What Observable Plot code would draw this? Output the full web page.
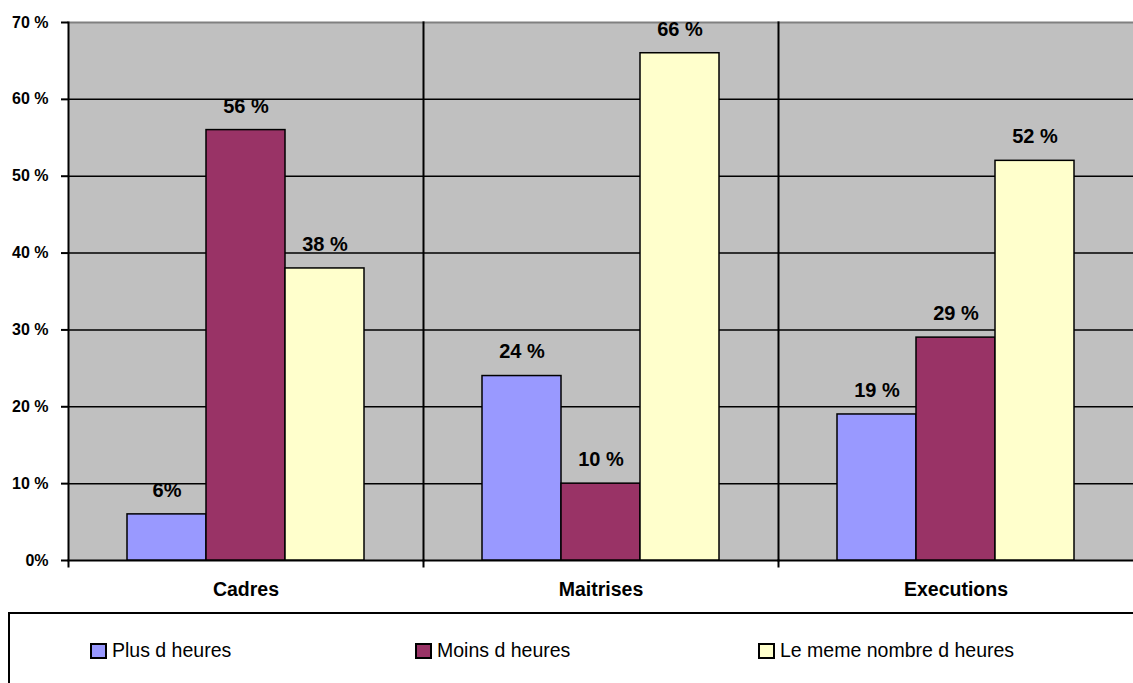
<!DOCTYPE html>
<html>
<head>
<meta charset="utf-8">
<script src="https://cdn.jsdelivr.net/npm/d3@7"></script>
<script src="https://cdn.jsdelivr.net/npm/@observablehq/plot@0.6"></script>
<style>
  html, body { margin: 0; padding: 0; background: white; }
  body { width: 1133px; height: 683px; overflow: hidden; font-family: "Liberation Sans", Arial, sans-serif; }
  #legend { position: relative; margin-left: 8px; width: 1125px; height: 69px; border-top: 2px solid black; border-left: 2px solid black; }
  .item { position: absolute; top: 25px; display: flex; align-items: center; font-size: 19.5px; color: black; }
  .sw { width: 13px; height: 12px; border: 2px solid black; margin-right: 5px; }
</style>
</head>
<body>
<div id="chart"></div>
<div id="legend"></div>
<script>
const categories = ["Cadres", "Maitrises", "Executions"];
const series = ["Plus d heures", "Moins d heures", "Le meme nombre d heures"];
const plusValues = [6, 24, 19];
const moinsValues = [56, 10, 29];
const memeValues = [38, 66, 52];
const plusLabels = ["6%", "24 %", "19 %"];
const moinsLabels = ["56 %", "10 %", "29 %"];
const memeLabels = ["38 %", "66 %", "52 %"];
const yTicks = [0, 10, 20, 30, 40, 50, 60, 70];
const yTickLabels = ["0%", "10 %", "20 %", "30 %", "40 %", "50 %", "60 %", "70 %"];
const colors = ["#9999FF", "#993366", "#FFFFCC"];

const valueSets = [plusValues, moinsValues, memeValues];
const labelSets = [plusLabels, moinsLabels, memeLabels];
const rows = [];
categories.forEach((c, ci) => {
  series.forEach((s, si) => {
    rows.push({category: c, series: s, value: valueSets[si][ci], label: labelSets[si][ci]});
  });
});

const chart = Plot.plot({
  width: 1133,
  height: 612,
  marginLeft: 68,
  marginRight: 0,
  marginTop: 22,
  marginBottom: 52,
  style: {fontFamily: "'Liberation Sans', Arial, sans-serif", background: "white", color: "black"},
  fx: {domain: categories, padding: 0, label: null, axis: null},
  x: {domain: series, paddingOuter: 0.738, paddingInner: 0, axis: null},
  y: {domain: [0, 70], axis: null},
  color: {domain: series, range: colors},
  marks: [
    Plot.frame({fill: "#c0c0c0", stroke: null}),
    Plot.ruleY(yTicks.filter(d => d > 0 && d < 70), {stroke: "black", strokeWidth: 1.5}),
    Plot.frame({anchor: "top", stroke: "#808080", strokeWidth: 2}),
    Plot.frame({anchor: "bottom", stroke: "black", strokeWidth: 2}),
    Plot.frame({anchor: "left", stroke: "black", strokeWidth: 2, insetBottom: -6}),
    Plot.barY(rows, {fx: "category", x: "series", y: "value", fill: "series", stroke: "black", strokeWidth: 1.5}),
    Plot.text(rows, {fx: "category", x: "series", y: "value", text: "label", dy: -24, fontWeight: "bold", fontSize: 20}),
    Plot.axisY({ticks: yTicks, tickFormat: d => yTickLabels[yTicks.indexOf(d)], tickSize: 7, tickPadding: 13, fontSize: 16, fontWeight: "bold", strokeWidth: 2, label: null}),
    Plot.axisFx({anchor: "bottom", tickSize: 0, tickPadding: 22, fontSize: 19.5, fontWeight: "bold", label: null})
  ]
});
document.getElementById("chart").appendChild(chart);

const legend = document.getElementById("legend");
const legendX = [90, 415, 758];
series.forEach((s, i) => {
  const it = document.createElement("div");
  it.className = "item";
  it.style.left = (legendX[i] - 10) + "px";
  const sw = document.createElement("div");
  sw.className = "sw";
  sw.style.background = colors[i];
  it.appendChild(sw);
  const t = document.createElement("span");
  t.textContent = s;
  it.appendChild(t);
  legend.appendChild(it);
});
</script>
</body>
</html>
